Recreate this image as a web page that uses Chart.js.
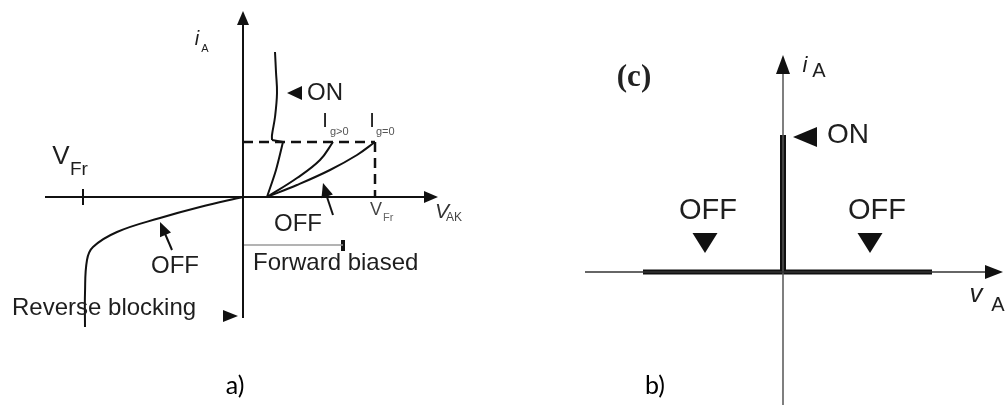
<!DOCTYPE html>
<html>
<head>
<meta charset="utf-8">
<script src="https://cdn.jsdelivr.net/npm/chart.js@4"></script>
<style>
  body { margin: 0; background: #fff; }
  #wrap { position: relative; width: 1006px; height: 405px; }
  canvas { position: absolute; top: 0; }
</style>
</head>
<body>
<div id="wrap">
  <canvas id="chartA" width="503" height="405" style="left:0"></canvas>
  <canvas id="chartB" width="503" height="405" style="left:503px"></canvas>
</div>
<script>
// panel a) thyristor characteristic
const reverseBlocking = [[0, 0], [-43, -10], [-83, -21], [-126, -35], [-150, -50], [-156, -63], [-158, -96], [-158, -130]];
const onStateLower = [[24, 0], [33, 27], [40, 55]];
const onStateUpper = [[29, 57], [29, 62], [32, 80], [34, 104], [33, 125], [32, 145]];
const gatePositive = [[24, 0], [54, 19], [77, 37], [90, 55]];
const gateZero = [[24, 0], [54, 12], [87, 27], [114, 42], [132, 55]];
const breakover = [55, 132]; // holding level, forward breakover voltage
const reverseBreak = -160;

// panel b) idealised characteristic
const idealOff = [[-140, 0], [149, 0]];
const idealOn = [[0, 0], [0, 137]];

const pts = a => a.map(p => ({ x: p[0], y: p[1] }));

function line(data, color, width, extra) {
  return Object.assign({
    data: pts(data), borderColor: color, borderWidth: width,
    pointRadius: 0, tension: 0, fill: false
  }, extra || {});
}

const annotate = {
  id: 'annotate',
  afterDatasetsDraw(chart, args, opts) {
    const { ctx, scales: { x, y } } = chart;
    ctx.save();
    (opts.heads || []).forEach(h => {
      const tx = x.getPixelForValue(h.at[0]), ty = y.getPixelForValue(h.at[1]);
      let dx = h.dir[0], dy = -h.dir[1];
      const n = Math.hypot(dx, dy); dx /= n; dy /= n;
      const bx = tx - dx * h.len, by = ty - dy * h.len;
      const px = -dy * h.wid / 2, py = dx * h.wid / 2;
      ctx.beginPath();
      ctx.moveTo(tx, ty);
      ctx.lineTo(bx + px, by + py);
      ctx.lineTo(bx - px, by - py);
      ctx.closePath();
      ctx.fillStyle = h.color || '#111';
      ctx.fill();
    });
    (opts.texts || []).forEach(t => {
      ctx.font = t.font;
      ctx.fillStyle = t.color || '#1e1e1e';
      ctx.textAlign = t.align || 'center';
      ctx.textBaseline = 'middle';
      ctx.fillText(t.text, x.getPixelForValue(t.at[0]), y.getPixelForValue(t.at[1]));
    });
    ctx.restore();
  }
};

function baseOptions(xr, yr, notes) {
  return {
    responsive: false, animation: false, devicePixelRatio: 1,
    layout: { padding: 0 },
    scales: {
      x: { type: 'linear', display: false, min: xr[0], max: xr[1] },
      y: { type: 'linear', display: false, min: yr[0], max: yr[1] }
    },
    plugins: { legend: { display: false }, tooltip: { enabled: false }, annotate: notes }
  };
}

const sans = '"Liberation Sans", Arial, sans-serif';
const ink = '#111';

new Chart(document.getElementById('chartA'), {
  type: 'line',
  data: {
    datasets: [
      line([[-198, 0], [186, 0]], ink, 2),
      line([[0, -121], [0, 176]], ink, 2),
      line([[reverseBreak, -8], [reverseBreak, 8]], ink, 2),
      line([[0, breakover[0]], [breakover[1], breakover[0]]], ink, 2.5, { borderDash: [10, 6] }),
      line([[breakover[1], breakover[0]], [breakover[1], 0]], ink, 2.5, { borderDash: [10, 6] }),
      line(reverseBlocking, ink, 2, { tension: 0.4 }),
      line(onStateLower, ink, 2, { tension: 0.3 }),
      line([onStateLower[onStateLower.length - 1], onStateUpper[0]], ink, 2),
      line(onStateUpper, ink, 2, { tension: 0.4 }),
      line(gatePositive, ink, 2, { tension: 0.4 }),
      line(gateZero, ink, 2, { tension: 0.4 }),
      line([[90, -18], [82, 6]], ink, 2),
      line([[-71, -53], [-80, -32]], ink, 2),
      line([[0, -48], [100, -48]], '#9a9a9a', 1.5),
      line([[100, -43], [100, -54]], ink, 4)
    ]
  },
  options: baseOptions([-243, 260], [-208, 197], {
    heads: [
      { at: [195, 0], dir: [1, 0], len: 14, wid: 12 },
      { at: [0, 186], dir: [0, 1], len: 14, wid: 12 },
      { at: [80, 14], dir: [-10, 32], len: 14, wid: 12 },
      { at: [-83, -25], dir: [-12, 28], len: 14, wid: 12 },
      { at: [44, 104], dir: [-1, 0], len: 15, wid: 14 },
      { at: [-5, -119], dir: [1, 0], len: 15, wid: 12 }
    ],
    texts: [
      { text: 'i', at: [-46, 158], font: 'italic 20px ' + sans },
      { text: 'A', at: [-38, 148], font: '11px ' + sans },
      { text: 'ON', at: [64, 104], font: '24px ' + sans, align: 'left' },
      { text: 'I', at: [82, 76], font: '20px ' + sans },
      { text: 'g>0', at: [87, 65], font: '11px ' + sans, align: 'left', color: '#555' },
      { text: 'I', at: [129, 76], font: '20px ' + sans },
      { text: 'g=0', at: [133, 65], font: '11px ' + sans, align: 'left', color: '#555' },
      { text: 'OFF', at: [55, -27], font: '24px ' + sans },
      { text: 'V', at: [133, -13], font: '18px ' + sans, color: '#444' },
      { text: 'Fr', at: [140, -21], font: '11px ' + sans, align: 'left', color: '#666' },
      { text: 'V', at: [199, -15], font: 'italic 21px ' + sans, color: '#333' },
      { text: 'AK', at: [203, -21], font: '12px ' + sans, align: 'left', color: '#444' },
      { text: 'V', at: [-182, 40], font: '26px ' + sans },
      { text: 'Fr', at: [-173, 27], font: '19px ' + sans, align: 'left' },
      { text: 'OFF', at: [-68, -69], font: '24px ' + sans },
      { text: 'Forward biased', at: [10, -66], font: '24px ' + sans, align: 'left' },
      { text: 'Reverse blocking', at: [-231, -111], font: '24px ' + sans, align: 'left' },
      { text: 'a)', at: [-8, -189], font: '25px Lato, "Open Sans", sans-serif', color: '#000' }
    ]
  }),
  plugins: [annotate]
});

new Chart(document.getElementById('chartB'), {
  type: 'line',
  data: {
    datasets: [
      line([[-198, 0], [205, 0]], '#333', 1.5),
      line([[0, -133], [0, 202]], '#555', 1.5),
      line(idealOff, ink, 5),
      line(idealOn, ink, 6)
    ]
  },
  options: baseOptions([-280, 223], [-133, 272], {
    heads: [
      { at: [220, 0], dir: [1, 0], len: 18, wid: 14 },
      { at: [0, 217], dir: [0, 1], len: 19, wid: 14 },
      { at: [10, 135], dir: [-1, 0], len: 24, wid: 20 },
      { at: [-78, 19], dir: [0, -1], len: 20, wid: 25 },
      { at: [87, 19], dir: [0, -1], len: 20, wid: 25 }
    ],
    texts: [
      { text: '(c)', at: [-149, 194], font: 'bold 31px "Liberation Serif", serif', color: '#222' },
      { text: 'i', at: [22, 206], font: 'italic 22px ' + sans },
      { text: 'A', at: [36, 201], font: '20px ' + sans },
      { text: 'ON', at: [44, 137], font: '28px ' + sans, align: 'left' },
      { text: 'OFF', at: [-75, 61], font: '29px ' + sans },
      { text: 'OFF', at: [94, 61], font: '29px ' + sans },
      { text: 'v', at: [193, -23], font: 'italic 26px ' + sans },
      { text: 'A', at: [215, -33], font: '20px ' + sans },
      { text: 'b)', at: [-128, -114], font: '25px Lato, "Open Sans", sans-serif', color: '#000' }
    ]
  }),
  plugins: [annotate]
});
</script>
</body>
</html>
